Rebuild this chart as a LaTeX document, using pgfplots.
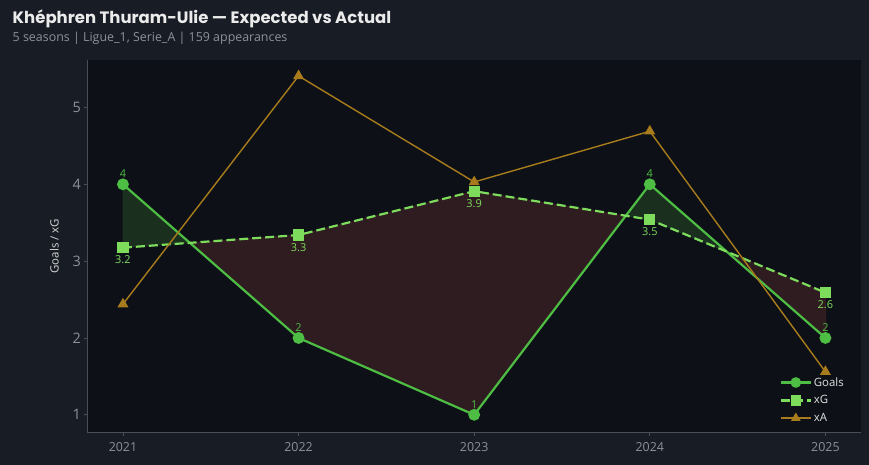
\documentclass[border=0pt]{standalone}
\usepackage{fontspec}
\setmainfont{Open Sans}
\newfontfamily\titlefont{Poppins}
\usepackage{xcolor}
\usepackage{pgfplots}
\pgfplotsset{compat=1.18}
\usepgfplotslibrary{fillbetween}

\definecolor{bgout}{HTML}{181C24}
\definecolor{bgin}{HTML}{0D1117}
\definecolor{spine}{HTML}{4A4F57}
\definecolor{ticktxt}{HTML}{8B929C}
\definecolor{goalsc}{HTML}{4DBE43}
\definecolor{xgc}{HTML}{7EDC5C}
\definecolor{xac}{HTML}{A87C1C}
\definecolor{fillg}{HTML}{1A2F1E}
\definecolor{fillr}{HTML}{2F1C20}
\definecolor{edgeg}{HTML}{23482A}
\definecolor{edger}{HTML}{4A2228}

\begin{document}
\pagecolor{bgout}
\begin{tikzpicture}[x=1bp,y=1bp]
\node[anchor=base west, inner sep=0pt, text=white!92!black, font=\titlefont\fontsize{16.6}{18}\selectfont\bfseries] at (10,442) {Khéphren Thuram-Ulie — Expected vs Actual};
\node[anchor=base west, inner sep=0pt, text=ticktxt, font=\fontsize{12.5}{14}\selectfont] at (10,424) {5 seasons | Ligue\_1, Serie\_A | 159 appearances};

\begin{axis}[
    at={(85.5bp,32bp)}, anchor=south west,
    width=775bp, height=374bp, scale only axis,
    xmin=2020.8, xmax=2025.2,
    ymin=0.767, ymax=5.62,
    xtick={2021,2022,2023,2024,2025},
    xticklabels={2021,2022,2023,2024,2025},
    ytick={1,2,3,4,5},
    axis background/.style={fill=bgin},
    axis x line*=bottom, axis y line*=left,
    axis line style={draw=spine, line width=0.8pt},
    tick style={draw=spine, line width=0.8pt},
    tick align=outside, major tick length=3.5bp,
    /pgf/number format/assume math mode=true,
    xticklabel style={font=\fontsize{12.5}{14}\selectfont, text=ticktxt, yshift=-3bp},
    yticklabel style={font=\fontsize{14.5}{16}\selectfont, text=ticktxt},
    ylabel={Goals / xG},
    ylabel style={font=\fontsize{11.5}{13}\selectfont, text=white!85!black},
    ylabel shift=7bp,
    legend style={at={(0.985,0.015)}, anchor=south east, draw=none, fill=none,
        text=white!88!black, font=\fontsize{11.5}{13}\selectfont,
        row sep=4bp},
    legend cell align=left,
    legend image code/.code={\draw[mark repeat=2, mark phase=2, #1, mark size=4.2bp]
        plot coordinates {(0bp,0bp) (15bp,0bp) (30bp,0bp)};},
    clip=false,
]
\addplot[name path=goals, draw=none, forget plot] coordinates {
    (2021,4) (2022,2) (2023,1) (2024,4) (2025,2)};
\addplot[name path=xg, draw=none, forget plot] coordinates {
    (2021,3.175) (2022,3.34) (2023,3.91) (2024,3.54) (2025,2.59)};
\addplot[forget plot] fill between[of=goals and xg, split,
    every segment no 0/.style={fill=fillg, draw=edgeg},
    every segment no 1/.style={fill=fillr, draw=edger},
    every segment no 2/.style={fill=fillg, draw=edgeg},
    every segment no 3/.style={fill=fillr, draw=edger}];

\addplot[goalsc, line width=2.2bp, mark=*, mark size=4.8bp,
    nodes near coords, point meta=explicit symbolic,
    every node near coord/.style={font=\fontsize{11}{12}\selectfont, text=goalsc, anchor=south, yshift=2bp}]
    coordinates {(2021,4)[4] (2022,2)[2] (2023,1)[1] (2024,4)[4] (2025,2)[2]};
\addlegendentry{Goals}
\addplot[xgc, line width=2.2bp, dash pattern=on 9bp off 4bp, mark=square*, mark size=4.5bp,
    mark options={solid},
    nodes near coords, point meta=explicit symbolic,
    every node near coord/.style={font=\fontsize{11}{12}\selectfont, text=xgc, anchor=north, yshift=-4bp}]
    coordinates {(2021,3.175)[3.2] (2022,3.34)[3.3] (2023,3.91)[3.9] (2024,3.54)[3.5] (2025,2.59)[2.6]};
\addlegendentry{xG}
\addplot[xac, line width=1.4bp, mark=triangle*, mark size=5bp, mark options={solid}]
    coordinates {(2021,2.44) (2022,5.41) (2023,4.03) (2024,4.69) (2025,1.56)};
\addlegendentry{xA}
\end{axis}
\pgfresetboundingbox
\path (0,0) rectangle (869,466);
\end{tikzpicture}
\end{document}
